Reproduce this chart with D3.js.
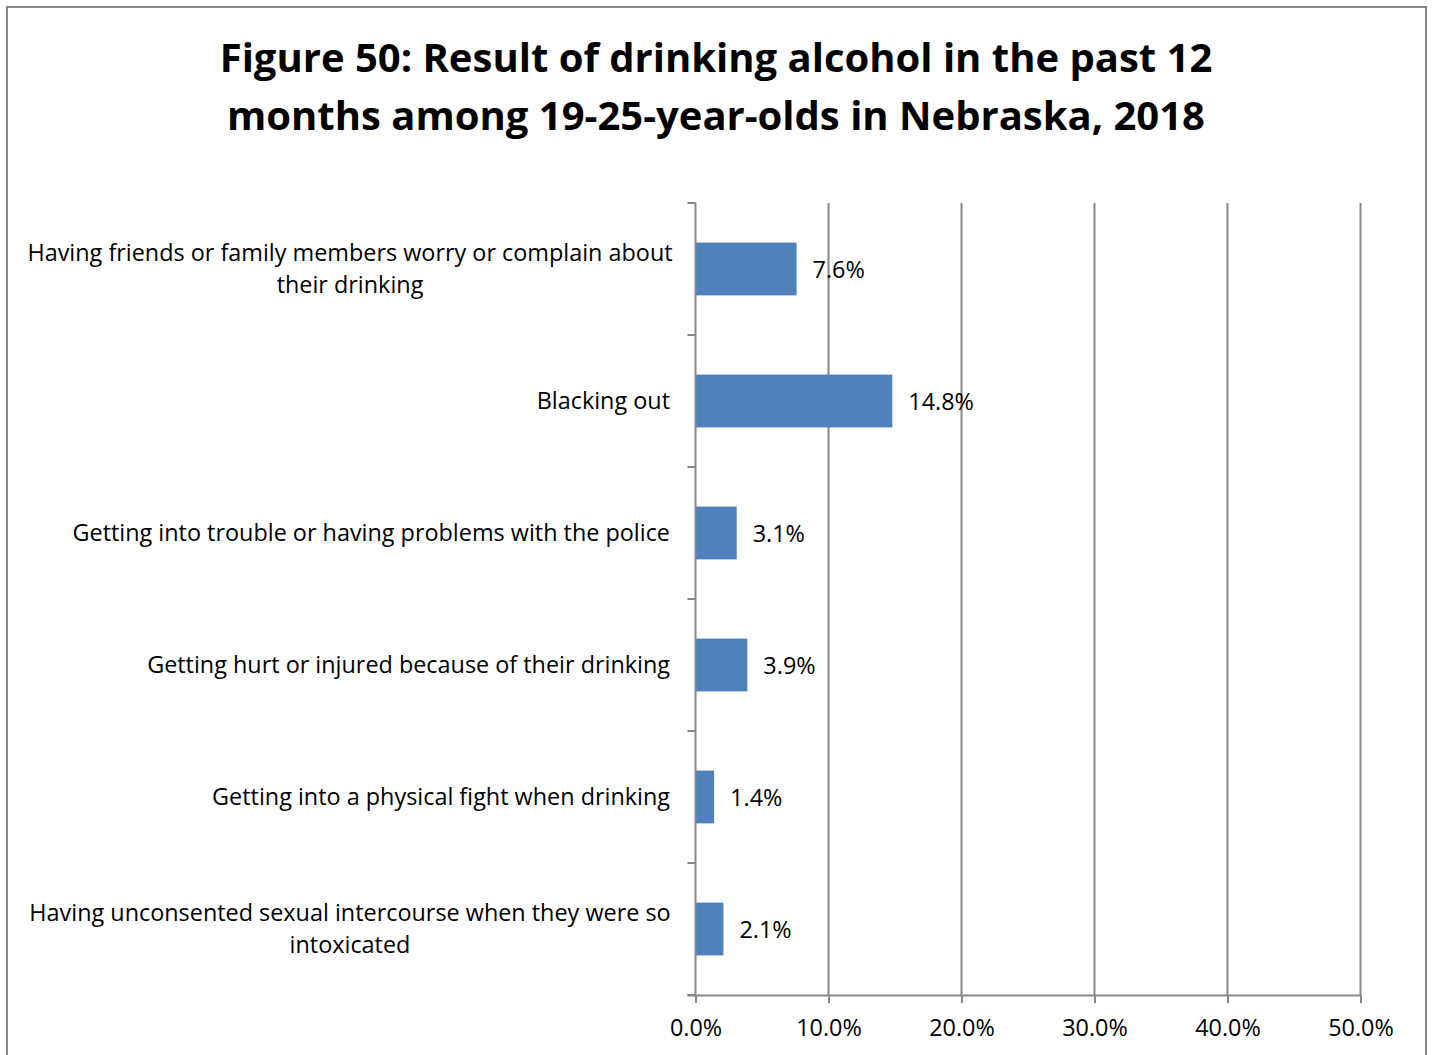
<!DOCTYPE html>
<html>
<head>
<meta charset="utf-8">
<script src="https://cdn.jsdelivr.net/npm/d3@7"></script>
<style>
  html, body { margin: 0; padding: 0; background: #fff; }
  svg { display: block; }
  text { font-family: "Open Sans", "Noto Sans", sans-serif; fill: #000; }
</style>
</head>
<body>
<svg id="chart" width="1432" height="1055"></svg>
<script>
// Outcomes of drinking, 19-25-year-olds in Nebraska, 2018
const titleLines = [
  "Figure 50: Result of drinking alcohol in the past 12",
  "months among 19-25-year-olds in Nebraska, 2018"
];
const categories = [
  ["Having friends or family members worry or complain about", "their drinking"],
  ["Blacking out"],
  ["Getting into trouble or having problems with the police"],
  ["Getting hurt or injured because of their drinking"],
  ["Getting into a physical fight when drinking"],
  ["Having unconsented sexual intercourse when they were so", "intoxicated"]
];
const values = [7.6, 14.8, 3.1, 3.9, 1.4, 2.1];
const xTicks = [0, 10, 20, 30, 40, 50];

const svg = d3.select("#chart");
const gray = "#878787";
const labelSize = 23.4;

// Frame
svg.append("path")
  .attr("d", "M7,1060 V7 H1426 V1060")
  .attr("fill", "none").attr("stroke", gray).attr("stroke-width", 2);

// Title
svg.append("text")
  .attr("x", 716).attr("y", 72)
  .attr("text-anchor", "middle")
  .attr("font-size", 40).attr("font-weight", "bold")
  .selectAll("tspan").data(titleLines).join("tspan")
  .attr("x", 716).attr("dy", (d, i) => i === 0 ? 0 : 58)
  .text(d => d);

const plotL = 695.5, plotR = 1360.5, plotT = 203, plotB = 995;
const x = d3.scaleLinear().domain([0, 50]).range([plotL, plotR]);
const idx = categories.map((d, i) => i);
const y = d3.scaleBand().domain(idx).range([plotT, plotB]).paddingInner(0.6).paddingOuter(0.3);

// Vertical gridlines
svg.append("g").selectAll("line").data(xTicks.slice(1)).join("line")
  .attr("x1", d => x(d)).attr("x2", d => x(d))
  .attr("y1", plotT).attr("y2", plotB)
  .attr("stroke", gray).attr("stroke-width", 2);

// Bars
svg.append("g").selectAll("rect").data(values).join("rect")
  .attr("x", x(0))
  .attr("y", (d, i) => y(i))
  .attr("width", d => x(d) - x(0))
  .attr("height", y.bandwidth())
  .attr("fill", "#4f81bd");

// Value labels
svg.append("g").selectAll("text").data(values).join("text")
  .attr("x", d => x(d) + 16)
  .attr("y", (d, i) => y(i) + y.bandwidth() / 2 + 1)
  .attr("dy", "0.35em")
  .attr("font-size", labelSize)
  .text(d => d.toFixed(1) + "%");

// Bottom axis
const xAxis = d3.axisBottom(x).tickValues(xTicks)
  .tickFormat(d => d.toFixed(1) + "%").tickSize(8).tickPadding(16);
const gx = svg.append("g").attr("transform", `translate(0,${plotB})`).call(xAxis);
gx.select(".domain").attr("d", `M${plotL - 8},0.5H${plotR}`).attr("stroke", gray).attr("stroke-width", 2);
gx.selectAll(".tick line").attr("stroke", gray).attr("stroke-width", 2);
gx.selectAll(".tick text").attr("font-size", labelSize).attr("font-family", "'Open Sans', sans-serif").attr("fill", "#000");

// Left axis with ticks between categories
const yEdges = d3.range(categories.length + 1).map(i => plotT + i * (plotB - plotT) / categories.length);
svg.append("line").attr("x1", plotL).attr("x2", plotL).attr("y1", plotT).attr("y2", plotB)
  .attr("stroke", gray).attr("stroke-width", 2);
svg.append("g").selectAll("line").data(yEdges).join("line")
  .attr("x1", plotL - 8).attr("x2", plotL).attr("y1", d => d).attr("y2", d => d)
  .attr("stroke", gray).attr("stroke-width", 2);

// Category labels
svg.append("g").selectAll("text").data(categories).join("text")
  .attr("font-size", labelSize)
  .each(function(lines, i) {
    const cy = y(i) + y.bandwidth() / 2;
    const t = d3.select(this);
    const n = lines.length;
    lines.forEach((ln, j) => {
      const oneLine = n === 1;
      t.append("tspan")
        .attr("x", oneLine ? 670 : 350)
        .attr("text-anchor", oneLine ? "end" : "middle")
        .attr("y", cy + (j - (n - 1) / 2) * 32)
        .attr("dy", "0.35em")
        .text(ln);
    });
  });
</script>
</body>
</html>
